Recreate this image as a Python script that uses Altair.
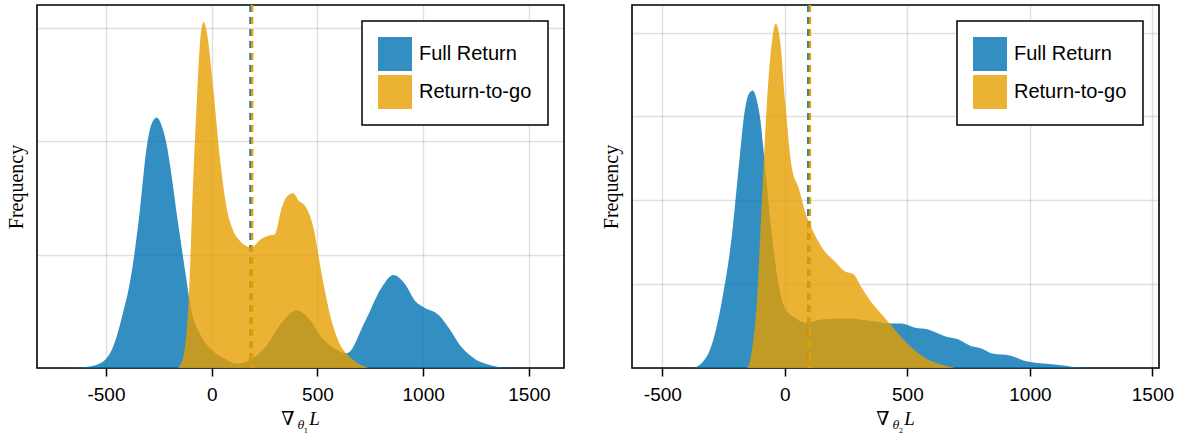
import altair as alt
import pandas as pd

SERIES = ["Full Return", "Return-to-go"]
COLORS = ["#0072B2", "#E69F00"]

# ---- Left panel (grad wrt theta_1) ----
l_full_x = [-700, -620, -570, -530, -500, -470, -449, -420, -386, -360, -339, -307, -285, -260, -235,
            -213, -190, -166, -145, -126, -95, -55, -20, 16, 63, 118, 189, 252, 331, 402, 457, 520, 587,
            639, 725, 804, 859, 914, 962, 1009, 1072, 1119, 1183, 1245, 1307, 1372, 1450]
l_full_y = [0.0, 0.004, 0.015, 0.04, 0.08, 0.17, 0.28, 0.48, 0.76, 1.08, 1.40, 1.95, 2.15, 2.21, 2.13,
            1.97, 1.70, 1.37, 1.10, 0.86, 0.50, 0.30, 0.20, 0.135, 0.08, 0.04, 0.08, 0.18, 0.40, 0.51,
            0.44, 0.27, 0.165, 0.13, 0.41, 0.71, 0.82, 0.74, 0.59, 0.53, 0.47, 0.36, 0.18, 0.08, 0.03,
            0.005, 0.0]
l_rtg_x = [-200, -163, -132, -109, -85, -70, -54, -38, -22, 8, 39, 71, 102, 134, 160, 189, 228, 276,
           299, 331, 360, 386, 410, 441, 481, 520, 568, 615, 646, 693, 740]
l_rtg_y = [0.0, 0.0, 0.12, 0.59, 1.77, 2.36, 2.89, 3.05, 2.95, 2.45, 1.85, 1.41, 1.21, 1.12, 1.08,
           1.06, 1.13, 1.17, 1.18, 1.41, 1.52, 1.54, 1.48, 1.43, 1.24, 0.83, 0.41, 0.18, 0.11, 0.04, 0.0]
l_means = [184, 191]

# ---- Right panel (grad wrt theta_2) ----
r_full_x = [-420, -380, -339, -298, -257, -216, -189, -162, -145, -131, -115, -101, -80, -53, -26, 1,
            42, 82, 150, 258, 354, 436, 476, 531, 585, 653, 708, 762, 796, 850, 918, 973, 1068, 1136,
            1204, 1260]
r_full_y = [0.0, 0.0, 0.06, 0.28, 0.80, 1.59, 2.38, 3.10, 3.28, 3.31, 3.2, 2.98, 2.38, 1.59, 1.0, 0.71,
            0.6, 0.54, 0.58, 0.59, 0.56, 0.53, 0.53, 0.48, 0.46, 0.38, 0.34, 0.26, 0.24, 0.17, 0.15, 0.09,
            0.05, 0.03, 0.005, 0.0]
r_rtg_x = [-190, -155, -135, -114, -94, -73, -53, -37, -19, 1, 29, 56, 82, 122, 163, 204, 245, 279,
           313, 354, 395, 436, 490, 544, 599, 653, 694]
r_rtg_y = [0.0, 0.0, 0.2, 0.8, 1.99, 3.18, 3.89, 4.11, 3.89, 3.18, 2.38, 2.15, 1.87, 1.59, 1.39, 1.27,
           1.15, 1.12, 0.96, 0.78, 0.64, 0.50, 0.32, 0.18, 0.08, 0.03, 0.0]
r_means = [96, 102]

x_ticks = [-500, 0, 500, 1000, 1500]

W, H = 527, 363


def panel(fx, fy, rx, ry, means, xdom, ytop, ytick_vals, sub):
    df_f = pd.DataFrame({"x": fx, "y": fy, "s": SERIES[0]})
    df_r = pd.DataFrame({"x": rx, "y": ry, "s": SERIES[1]})
    xs = alt.Scale(domain=xdom, nice=False, zero=False)
    ys = alt.Scale(domain=[0, ytop], nice=False, zero=False)
    xax = alt.Axis(values=x_ticks, labelExpr="'' + datum.value", title=None, grid=True,
                   domain=False, ticks=True, tickSize=8, tickWidth=1.5, tickColor="#000",
                   labelFont="Liberation Sans", labelFontSize=19, labelColor="#000",
                   labelPadding=9, gridColor="#000", gridOpacity=0.12, gridWidth=1.5)
    yax = alt.Axis(values=ytick_vals, labels=False, ticks=False, domain=False, grid=True,
                   title="Frequency", titleFont="Liberation Serif", titleFontSize=20,
                   titleFontWeight="normal", titleColor="#000", titlePadding=11,
                   gridColor="#000", gridOpacity=0.12, gridWidth=1.5)
    col = alt.Color("s:N", scale=alt.Scale(domain=SERIES, range=COLORS),
                    legend=alt.Legend(title=None, orient="top-right", offset=16, padding=16,
                                      strokeColor="#000", fillColor="#fff",
                                      symbolType="square", symbolSize=1156, symbolStrokeWidth=0,
                                      symbolOpacity=0.8, labelFont="Liberation Sans",
                                      labelFontSize=20, labelColor="#000", labelOffset=7,
                                      rowPadding=4))

    def area(df):
        return alt.Chart(df).mark_area(opacity=0.8, interpolate="monotone").encode(
            x=alt.X("x:Q", scale=xs, axis=xax),
            y=alt.Y("y:Q", scale=ys, axis=yax),
            color=col,
        )

    def rule(m, c):
        return alt.Chart(pd.DataFrame({"m": [m]})).mark_rule(
            color=c, strokeWidth=2.5, strokeDash=[7, 5]).encode(x=alt.X("m:Q", scale=xs))

    def txt(t, xv, yv, size, font, style="normal"):
        return alt.Chart(pd.DataFrame({"t": [t]})).mark_text(
            font=font, fontSize=size, fontStyle=style, color="#000", align="center",
            baseline="alphabetic").encode(text="t:N", x=alt.value(xv), y=alt.value(yv))

    return alt.layer(
        area(df_f), rule(means[0], COLORS[0]),
        area(df_r), rule(means[1], COLORS[1]),
        txt("∇", 251, 419.5, 19, "DejaVu Serif"),
        txt("θ", 264, 423.5, 11, "DejaVu Serif", "italic"),
        txt(sub, 269, 427.5, 7, "DejaVu Serif"),
        txt("L", 277.5, 419.5, 19, "Liberation Serif", "italic"),
    ).properties(width=W, height=H)


left = panel(l_full_x, l_full_y, l_rtg_x, l_rtg_y, l_means, [-826, 1666], 3.201, [0, 1, 2, 3], "1")
right = panel(r_full_x, r_full_y, r_rtg_x, r_rtg_y, r_means, [-624, 1527], 4.33, [0, 1, 2, 3, 4], "2")

chart = alt.hconcat(left, right, spacing=35).resolve_scale(
    color="independent", x="independent", y="independent"
).resolve_legend(color="independent").configure(
    padding={"left": 5, "top": 2, "right": 0, "bottom": 0},
    background="#ffffff",
).configure_view(stroke="#000", strokeWidth=1.6).configure_legend(strokeWidth=1.5)

chart.save("out.html", embed_options={"renderer": "svg", "actions": False})
